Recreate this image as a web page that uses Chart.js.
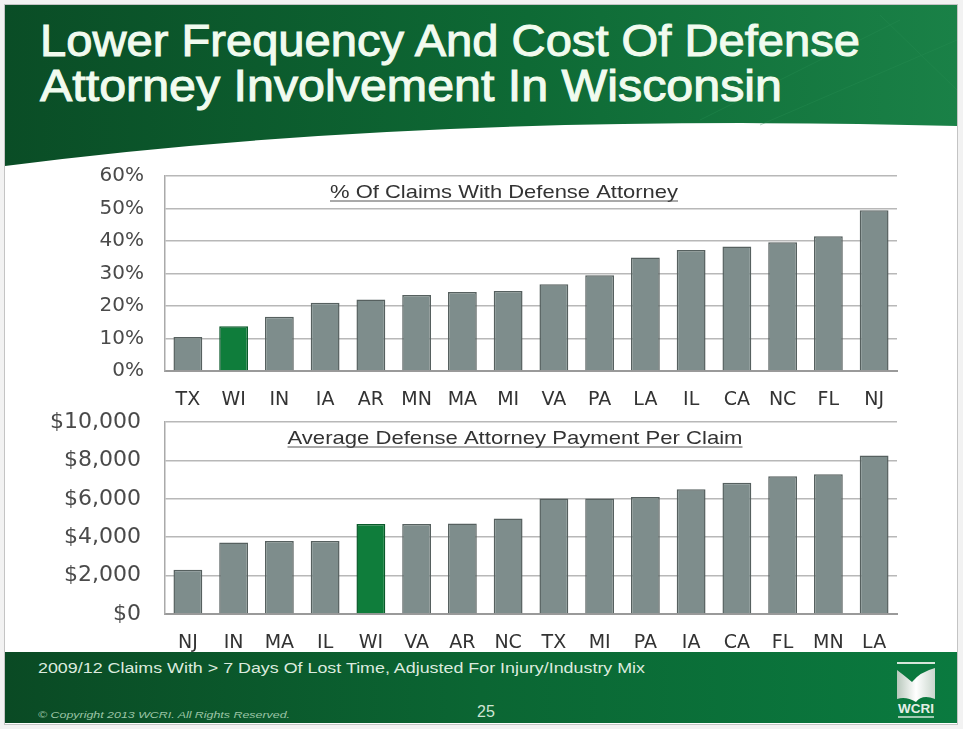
<!DOCTYPE html>
<html>
<head>
<meta charset="utf-8">
<script src="https://cdn.jsdelivr.net/npm/chart.js@4/dist/chart.umd.min.js"></script>
<style>
  body { margin: 0; width: 963px; height: 729px; position: relative; overflow: hidden; background: #f2f2f2; font-family: "Liberation Sans", Arial, sans-serif; }
  .slide { position: absolute; left: 4px; top: 4px; width: 952px; height: 719px; background: #fff; border: 1px solid #c4c4c4; }
  svg, canvas { position: absolute; left: 0; }
  #hdr { top: 0; }
  #ftr { top: 0; }
  #topChart { top: 160px; }
  #botChart { top: 410px; }
</style>
</head>
<body>
<div class="slide"></div>

<!-- header band -->
<svg id="hdr" width="963" height="180">
  <defs>
    <linearGradient id="hg" x1="0" x2="1" y1="0" y2="0">
      <stop offset="0" stop-color="#0a4d26"/>
      <stop offset="0.55" stop-color="#0e6a35"/>
      <stop offset="1" stop-color="#1a8147"/>
    </linearGradient>
  </defs>
  <path d="M5,5 H957 V126 Q420,112 5,166 Z" fill="url(#hg)"/>
  <g stroke="#2a9055" stroke-width="1" opacity="0.35" fill="none">
    <path d="M700,120 L900,20"/><path d="M760,125 L957,40"/><path d="M880,15 L957,90"/>
  </g>
  <g fill="#f1fbef" stroke="#f1fbef" stroke-width="1">
    <text x="40" y="56" font-size="44" textLength="820" lengthAdjust="spacingAndGlyphs">Lower Frequency And Cost Of Defense</text>
    <text x="40" y="101" font-size="44" textLength="742" lengthAdjust="spacingAndGlyphs">Attorney Involvement In Wisconsin</text>
  </g>
</svg>

<canvas id="topChart" width="963" height="250"></canvas>
<canvas id="botChart" width="963" height="245"></canvas>

<!-- footer band -->
<svg id="ftr" width="963" height="729" style="pointer-events:none">
  <defs>
    <linearGradient id="fg" x1="0" x2="1" y1="0" y2="0">
      <stop offset="0" stop-color="#0a4a24"/>
      <stop offset="0.5" stop-color="#0b6633"/>
      <stop offset="1" stop-color="#0a7a3f"/>
    </linearGradient>
    <linearGradient id="lg" x1="0" x2="1" y1="0" y2="0">
      <stop offset="0" stop-color="#b8c8bc"/>
      <stop offset="0.5" stop-color="#ffffff"/>
      <stop offset="1" stop-color="#c9d6cc"/>
    </linearGradient>
  </defs>
  <rect x="5" y="652" width="952" height="71" fill="url(#fg)"/>
  <text x="38" y="673" font-size="14" fill="#dcebdf" textLength="607" lengthAdjust="spacingAndGlyphs">2009/12 Claims With &gt; 7 Days Of Lost Time, Adjusted For Injury/Industry Mix</text>
  <text x="38" y="718" font-size="9.5" font-style="italic" fill="#9cc5a6" textLength="252" lengthAdjust="spacingAndGlyphs">© Copyright 2013 WCRI. All Rights Reserved.</text>
  <text x="477" y="717" font-size="16" fill="#cfe5d4">25</text>
  <!-- WCRI logo -->
  <line x1="897" y1="663" x2="935" y2="663" stroke="#d6e6da" stroke-width="2"/>
  <path d="M897,670 Q905,676 912,682 Q920,672 935,668 L935,699 Q922,694 916,702 Q906,696 897,699 Z" fill="url(#lg)"/>
  <text x="916" y="713" font-size="12" font-weight="bold" fill="#e4efe6" text-anchor="middle" textLength="36" lengthAdjust="spacingAndGlyphs">WCRI</text>
  <line x1="898" y1="717" x2="934" y2="717" stroke="#d6e6da" stroke-width="1.5"/>
</svg>

<script>
// ── DATA ──────────────────────────────────────────
const topStates = ['TX', 'WI', 'IN', 'IA', 'AR', 'MN', 'MA', 'MI', 'VA', 'PA', 'LA', 'IL', 'CA', 'NC', 'FL', 'NJ'];
const topPct    = [10.5, 13.8, 16.7, 21.0, 22.0, 23.4, 24.3, 24.6, 26.7, 29.5, 34.9, 37.2, 38.3, 39.6, 41.5, 49.5];
const topTicks  = [0, 10, 20, 30, 40, 50, 60];

const botStates = ['NJ', 'IN', 'MA', 'IL', 'WI', 'VA', 'AR', 'NC', 'TX', 'MI', 'PA', 'IA', 'CA', 'FL', 'MN', 'LA'];
const botPay    = [2300, 3720, 3800, 3800, 4690, 4690, 4720, 4980, 6020, 6020, 6090, 6500, 6830, 7180, 7280, 8250];
const botTicks  = [0, 2000, 4000, 6000, 8000, 10000];

const highlight = 'WI';

// ── STYLE ─────────────────────────────────────────
const GRAY = '#7e8d8c', GRAY_EDGE = '#56605f';
const GREEN = '#0f7d3b', GREEN_EDGE = '#0a5a2a';
const GRID = '#b8b8b8';

// underlined caption drawn inside the plot area
const innerTitle = {
  id: 'innerTitle',
  afterDraw(chart, args, opts) {
    const ctx = chart.ctx;
    ctx.save();
    ctx.font = opts.font;
    const w = ctx.measureText(opts.text).width;
    const left = opts.cx - opts.width / 2;
    ctx.translate(left, opts.y);
    ctx.scale(opts.width / w, 1);
    ctx.fillStyle = '#333';
    ctx.textBaseline = 'middle';
    ctx.fillText(opts.text, 0, 0);
    ctx.restore();
    ctx.save();
    ctx.strokeStyle = '#555';
    ctx.lineWidth = 1;
    ctx.beginPath();
    ctx.moveTo(left, opts.uy);
    ctx.lineTo(left + opts.width, opts.uy);
    ctx.stroke();
    ctx.restore();
  }
};

function buildChart(id, labels, values, ticks, fmt, o) {
  return new Chart(document.getElementById(id), {
    type: 'bar',
    data: {
      labels,
      datasets: [{
        data: values,
        backgroundColor: labels.map(l => l === highlight ? GREEN : GRAY),
        borderColor: labels.map(l => l === highlight ? GREEN_EDGE : GRAY_EDGE),
        borderWidth: 1.5,
        borderSkipped: 'bottom',
        categoryPercentage: 1,
        barPercentage: 0.63
      }]
    },
    options: {
      responsive: false,
      animation: false,
      layout: { padding: { top: o.padTop, right: 66, left: 0, bottom: 0 } },
      plugins: {
        legend: { display: false },
        tooltip: { enabled: false },
        innerTitle: o.title
      },
      scales: {
        x: {
          grid: { display: false },
          border: { display: true, color: '#9a9a9a', width: 2 },
          ticks: { color: '#333', padding: 10, font: { family: 'DejaVu Sans', size: 19 }, maxRotation: 0, autoSkip: false },
          afterFit: s => { s.height = o.xHeight; }
        },
        y: {
          min: ticks[0],
          max: ticks[ticks.length - 1],
          afterBuildTicks: s => { s.ticks = ticks.map(v => ({ value: v })); },
          grid: { color: GRID, lineWidth: 1.5, drawTicks: false },
          border: { display: true, color: '#aaaaaa', width: 1.5 },
          ticks: { color: '#4a4a4a', padding: o.yPad, font: { family: 'DejaVu Sans', size: o.ySize }, callback: fmt },
          afterFit: s => { s.width = 165; s.paddingTop = 0; s.paddingBottom = 0; }
        }
      }
    },
    plugins: [innerTitle]
  });
}

buildChart('topChart', topStates, topPct, topTicks, v => v + '%', {
  padTop: 16, xHeight: 39, yPad: 21, ySize: 20,
  title: { text: '% Of Claims With Defense Attorney', cx: 504, y: 33, uy: 41, width: 348,
           font: '19px "Liberation Sans", Arial, sans-serif' }
});

buildChart('botChart', botStates, botPay, botTicks, v => '$' + v.toLocaleString('en-US'), {
  padTop: 12, xHeight: 41, yPad: 24, ySize: 22,
  title: { text: 'Average Defense Attorney Payment Per Claim', cx: 515, y: 29, uy: 37, width: 455,
           font: '19px "Liberation Sans", Arial, sans-serif' }
});
</script>
</body>
</html>
